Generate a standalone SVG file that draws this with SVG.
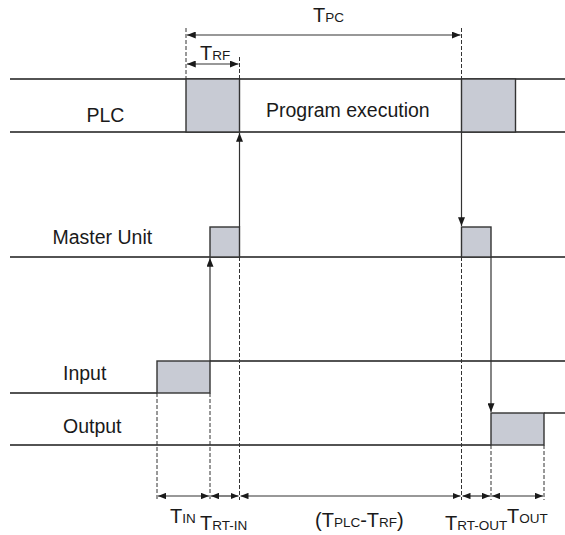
<svg xmlns="http://www.w3.org/2000/svg" width="565" height="535" viewBox="0 0 565 535">
<defs>
<marker id="ah" viewBox="0 0 10 8" refX="10" refY="4" markerWidth="9" markerHeight="7" markerUnits="userSpaceOnUse" orient="auto-start-reverse">
<path d="M0,0 L10,4 L0,8 z" fill="#1a1a1a"/>
</marker>
<marker id="ahs" viewBox="0 0 10 8" refX="10" refY="4" markerWidth="8" markerHeight="6.5" markerUnits="userSpaceOnUse" orient="auto-start-reverse">
<path d="M0,0 L10,4 L0,8 z" fill="#1a1a1a"/>
</marker>
</defs>
<style>
.ln{stroke:#1a1a1a;stroke-width:1.4;fill:none}
.box{fill:#c8cbd4;stroke:#333;stroke-width:1.4}
.dash{stroke:#333;stroke-width:1;stroke-dasharray:4 2;fill:none}
.arr{stroke:#333;stroke-width:1.2;fill:none}
.lbl{font-family:"Liberation Sans",Arial,sans-serif;font-size:19.5px;fill:#1a1a1a}
.t{font-family:"Liberation Sans",Arial,sans-serif;font-size:20px;fill:#1a1a1a}
.s{font-size:13.5px}
</style>

<g id="plc">
<line class="ln" x1="10" y1="79" x2="565" y2="79"/>
<line class="ln" x1="10" y1="132" x2="565" y2="132"/>
<rect class="box" x="186" y="79" width="53.5" height="53"/>
<rect class="box" x="461.5" y="79" width="54" height="53"/>
<text class="lbl" x="86.5" y="121.5">PLC</text>
<text class="lbl" x="266" y="117">Program execution</text>
</g>

<g id="master">
<line class="ln" x1="10" y1="257" x2="565" y2="257"/>
<rect class="box" x="210" y="227" width="29.5" height="30"/>
<rect class="box" x="461.5" y="227" width="29.5" height="30"/>
<text class="lbl" x="52.5" y="244">Master Unit</text>
</g>

<g id="input">
<polyline class="ln" points="10,393 157,393"/>
<polyline class="ln" points="210,361 565,361"/>
<rect class="box" x="157" y="361" width="53" height="32"/>
<text class="lbl" x="63" y="380">Input</text>
</g>

<g id="output">
<polyline class="ln" points="10,445 491,445"/>
<polyline class="ln" points="544,413 565,413"/>
<rect class="box" x="491" y="413" width="53" height="32"/>
<text class="lbl" x="63" y="432.5">Output</text>
</g>

<g id="connectors">
<line class="dash" x1="186" y1="28" x2="186" y2="79"/>
<line class="dash" x1="461.5" y1="28" x2="461.5" y2="79"/>
<line class="dash" x1="239.5" y1="57" x2="239.5" y2="79"/>
<line class="dash" x1="239.5" y1="257" x2="239.5" y2="500"/>
<line class="dash" x1="210" y1="393" x2="210" y2="500"/>
<line class="dash" x1="157" y1="393" x2="157" y2="500"/>
<line class="dash" x1="461.5" y1="257" x2="461.5" y2="500"/>
<line class="dash" x1="491" y1="445" x2="491" y2="500"/>
<line class="dash" x1="544" y1="445" x2="544" y2="500"/>

<line class="arr" x1="239.5" y1="227" x2="239.5" y2="133" marker-end="url(#ah)"/>
<line class="arr" x1="210" y1="361" x2="210" y2="258" marker-end="url(#ah)"/>
<line class="arr" x1="461.5" y1="132" x2="461.5" y2="226" marker-end="url(#ah)"/>
<line class="arr" x1="491" y1="257" x2="491" y2="412" marker-end="url(#ah)"/>

<line class="arr" x1="187" y1="35" x2="460.5" y2="35" marker-start="url(#ah)" marker-end="url(#ah)"/>
<line class="arr" x1="187" y1="64" x2="238.5" y2="64" marker-start="url(#ah)" marker-end="url(#ah)"/>
<line class="arr" x1="158" y1="496" x2="209" y2="496" marker-start="url(#ahs)" marker-end="url(#ahs)"/>
<line class="arr" x1="211" y1="496" x2="238.5" y2="496" marker-start="url(#ahs)" marker-end="url(#ahs)"/>
<line class="arr" x1="240.5" y1="496" x2="460.5" y2="496" marker-start="url(#ahs)" marker-end="url(#ahs)"/>
<line class="arr" x1="462.5" y1="496" x2="490" y2="496" marker-start="url(#ahs)" marker-end="url(#ahs)"/>
<line class="arr" x1="492" y1="496" x2="543" y2="496" marker-start="url(#ahs)" marker-end="url(#ahs)"/>
</g>

<g id="labels">
<text class="t" x="313" y="21.5">T<tspan class="s">PC</tspan></text>
<text class="t" x="200" y="59.5">T<tspan class="s">RF</tspan></text>
<text class="t" x="170" y="522.5">T<tspan class="s">IN</tspan></text>
<text class="t" x="200" y="530">T<tspan class="s">RT-IN</tspan></text>
<text class="t" x="315" y="526.5">(T<tspan class="s">PLC</tspan>-T<tspan class="s">RF</tspan>)</text>
<text class="t" x="445" y="530">T<tspan class="s">RT-OUT</tspan></text>
<text class="t" x="507" y="523">T<tspan class="s">OUT</tspan></text>
</g>
</svg>
